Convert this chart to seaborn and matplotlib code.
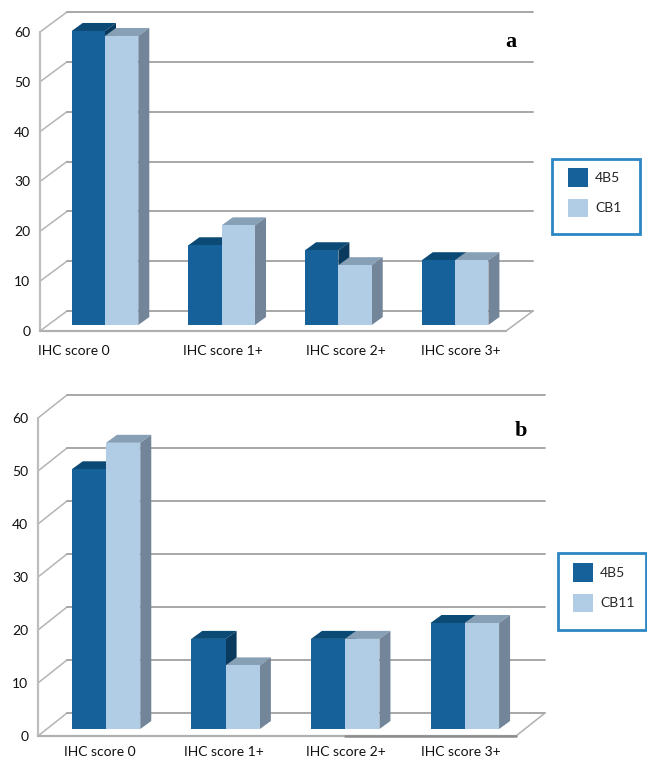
# -*- coding: utf-8 -*-
import seaborn as sns
import matplotlib.pyplot as plt
import pandas as pd
from matplotlib.patches import Polygon, Rectangle
from matplotlib.lines import Line2D
from matplotlib.transforms import IdentityTransform, Affine2D

W, H = 647, 758

sns.set_theme(style="white")
plt.rcParams['font.family'] = ['Lato', 'DejaVu Sans']

#values
categories = ['IHC score 0', 'IHC score 1+', 'IHC score 2+', 'IHC score 3+']
ticks = [0, 10, 20, 30, 40, 50, 60]
a_4b5 = [59, 16, 15, 13]
a_cb1 = [58, 20, 12, 13]
b_4b5 = [49, 17, 17, 20]
b_cb11 = [54, 12, 17, 20]

#label centres are not evenly spaced in the original
a_label_px = [74, 223, 346, 461]
b_label_px = [100, 224, 346, 461]

BLUE = '#166199'
LIGHT = '#B1CDE6'
palette = [BLUE, LIGHT]
faces = {0: ('#0B4A75', '#0A3B5E'), 1: ('#87A0B5', '#728599')}
BOX = '#2C86C4'
FS = 10


def px(x, y):
    #image pixels (origin top left) to display coordinates
    return (x, H - y)


def draw_panel(name2, s1, s2, label_px, label, geo):
    left, right, top, bottom = geo['left'], geo['right'], geo['top'], geo['bottom']
    ax = fig.add_axes([left / W, 1 - bottom / H, (right - left) / W, (bottom - top) / H])
    df = pd.DataFrame({'cat': categories * 2,
                       'value': s1 + s2,
                       'series': ['4B5'] * 4 + [name2] * 4})
    sns.barplot(data=df, x='cat', y='value', hue='series', palette=palette, ax=ax,
                width=geo['bar_w'], gap=0, saturation=1, errorbar=None, zorder=3, linewidth=0)

    c0, pitch = geo['c0'], geo['pitch']
    ax.set_xlim((left - c0) / pitch, (right - c0) / pitch)
    ax.set_ylim(0, 60)
    sns.despine(ax=ax, left=True, bottom=True)
    ax.patch.set_alpha(0)
    ax.set(xlabel='', ylabel='')
    ax.set_yticks(ticks)
    ax.set_xticks([(p - c0) / pitch for p in label_px], categories)
    ax.tick_params(axis='y', length=0, pad=geo['ypad'], labelsize=FS, labelcolor='#111111')
    ax.tick_params(axis='x', length=0, pad=geo['xpad'], labelsize=FS, labelcolor='#111111')

    #back wall, side wall and floor
    dx, dy = geo['back']
    idt = IdentityTransform()
    for t in ticks:
        y = bottom - (bottom - top) * t / 60
        ax.add_line(Line2D(*zip(px(left, y), px(left + dx, y - dy)), transform=idt,
                           color='#b4b4b4', lw=1.1, zorder=1, clip_on=False))
        ax.add_line(Line2D(*zip(px(left + dx, y - dy), px(right + dx, y - dy)), transform=idt,
                           color='#a0a0a0', lw=1.3, zorder=1, clip_on=False))
    ax.add_line(Line2D(*zip(px(left, top), px(left, bottom)), transform=idt,
                       color='#bdbdbd', lw=1.6, zorder=1, clip_on=False))
    ax.add_line(Line2D(*zip(px(left, bottom), px(right, bottom)), transform=idt,
                       color='#b0b0b0', lw=1.6, zorder=1, clip_on=False))
    ax.add_line(Line2D(*zip(px(right, bottom), px(right + dx, bottom - dy)), transform=idt,
                       color='#b0b0b0', lw=1.1, zorder=1, clip_on=False))
    if 'dark_floor' in geo:
        ax.add_line(Line2D(*zip(px(geo['dark_floor'], bottom), px(right, bottom)), transform=idt,
                           color='#8c8c8c', lw=1.8, zorder=1, clip_on=False))

    #3d faces of the bars, taken from the seaborn patches
    fig.canvas.draw()
    shift = geo['shift']
    sx, sy = geo['side']
    bars = [b for cont in ax.containers for b in cont]
    for i, bar in enumerate(bars):
        series = i // 4
        x0, y0 = ax.transData.transform((bar.get_x(), 0))
        x1, y1 = ax.transData.transform((bar.get_x() + bar.get_width(), bar.get_height()))
        y0 += shift
        y1 += shift
        top_c, side_c = faces[series]
        z = 2.2 + series * 0.4
        ax.add_patch(Polygon([(x0, y1), (x1, y1), (x1 + sx, y1 + sy), (x0 + sx, y1 + sy)],
                             transform=idt, fc=top_c, ec='none', zorder=z, clip_on=False))
        ax.add_patch(Polygon([(x1, y0), (x1, y1), (x1 + sx, y1 + sy), (x1 + sx, y0 + sy)],
                             transform=idt, fc=side_c, ec='none', zorder=z + 0.1, clip_on=False))
        #the bars stand a little behind the front edge of the floor
        bar.set_transform(ax.transData + Affine2D().translate(0, shift))
        bar.set_clip_on(False)

    #legend
    bx0, by0, bx1, by1 = geo['box']
    fig.add_artist(Rectangle((bx0 / W, 1 - by1 / H), (bx1 - bx0) / W, (by1 - by0) / H,
                             transform=fig.transFigure, fc='white', ec=BOX, lw=2, zorder=-1))
    sns.move_legend(ax, 'upper left', bbox_to_anchor=(geo['leg'][0] / W, 1 - geo['leg'][1] / H),
                    bbox_transform=fig.transFigure, title=None, frameon=False, fontsize=FS,
                    borderpad=0, borderaxespad=0, handlelength=1.45, handleheight=1.7,
                    labelspacing=0.85, handletextpad=0.5)

    fig.text(geo['tag'][0] / W, 1 - geo['tag'][1] / H, label, family='Liberation Serif',
             fontweight='bold', fontsize=16, color='black', ha='center', va='center')
    return ax


fig = plt.figure(figsize=(W / 100, H / 100), dpi=100, facecolor='white')

draw_panel('CB1', a_4b5, a_cb1, a_label_px, 'a',
           dict(left=40, right=506, top=32, bottom=331, c0=105, pitch=116.7, bar_w=0.571,
                back=(27, 20), shift=6, side=(11, 8), ypad=7, xpad=10,
                box=(552, 159, 640, 234), leg=(568, 168), tag=(511, 42)))
draw_panel('CB11', b_4b5, b_cb11, b_label_px, 'b',
           dict(left=38, right=516, top=418, bottom=736, c0=106, pitch=119.6, bar_w=0.573,
                back=(29, 23), shift=7, side=(11, 8), ypad=7, xpad=7, dark_floor=345,
                box=(558, 553, 646, 630), leg=(573, 563), tag=(521, 431)))

fig.savefig('out.png', dpi=100)
